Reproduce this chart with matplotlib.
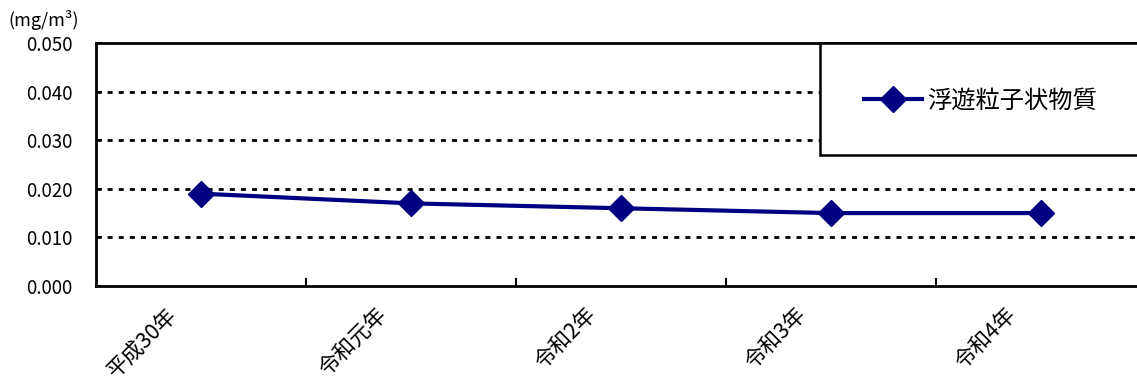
import matplotlib.pyplot as plt
from matplotlib.patches import Rectangle
from matplotlib.ticker import FixedLocator

plt.rcParams['font.family'] = ['Noto Sans CJK JP', 'DejaVu Sans']

# 浮遊粒子状物質の年平均値
years = ['平成30年', '令和元年', '令和2年', '令和3年', '令和4年']
spm = [0.019, 0.017, 0.016, 0.015, 0.015]
yticks = [0.000, 0.010, 0.020, 0.030, 0.040, 0.050]

fig = plt.figure(figsize=(11.37, 3.85), dpi=100)
ax = fig.add_axes([96 / 1137, 99 / 385, 1050 / 1137, 243 / 385])

x = list(range(len(years)))
ax.plot(x, spm, color='#000080', linewidth=3, marker='D', markersize=13,
        label='浮遊粒子状物質', zorder=3)

ax.set_xlim(-0.5, len(years) - 0.5)
ax.set_ylim(0, 0.05)
ax.set_yticks(yticks)
ax.set_yticklabels([f'{v:.3f}' for v in yticks], fontsize=13.5)
for v in yticks[1:-1]:
    ax.axhline(v, color='black', linewidth=2, linestyle=(0, (1.8, 2.2)), zorder=1)

# カテゴリ境界の目盛り
ax.set_xticks(x)
ax.set_xticklabels([])
ax.tick_params(axis='x', which='major', length=0)
ax.xaxis.set_minor_locator(FixedLocator([i + 0.5 for i in x[:-1]]))
ax.tick_params(axis='x', which='minor', direction='in', length=6, width=1.5)
ax.tick_params(axis='y', direction='in', length=4, width=1.5, pad=17)

for xi, label in zip(x, years):
    ax.text(xi - 0.17, -0.0036, label, rotation=45, ha='right', va='top',
            rotation_mode='anchor', fontsize=15.5)

for side in ['left', 'bottom', 'top']:
    ax.spines[side].set_linewidth(2)
ax.spines['right'].set_visible(False)

fig.text(8 / 1137, 1 - 20 / 385, '(mg/m³)', fontsize=13, va='center')

# 凡例の枠
fig.patches.append(Rectangle((820 / 1137, 1 - 155 / 385), 330 / 1137, 112 / 385,
                             transform=fig.transFigure, facecolor='white',
                             edgecolor='black', linewidth=1.8, zorder=5))
leg = fig.legend(loc='center left', bbox_to_anchor=(842 / 1137, 1 - 101 / 385),
                 frameon=False, fontsize=17.5, handlelength=2.4, handletextpad=0.2)
leg.set_zorder(6)

fig.savefig('out.png', dpi=100)
